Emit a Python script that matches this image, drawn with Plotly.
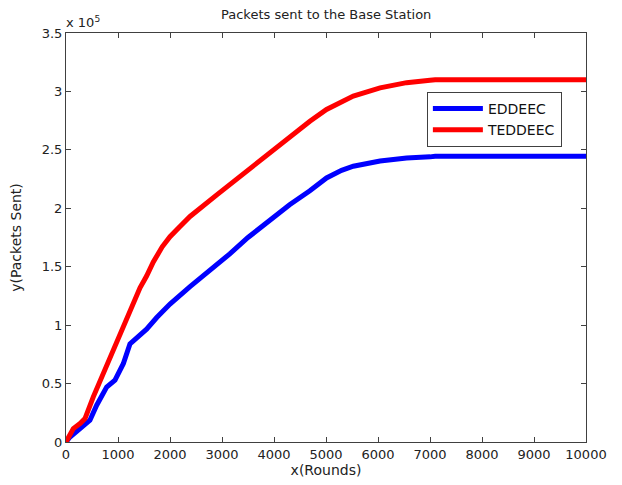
import plotly.graph_objects as go

rounds_eddeec = [0, 77, 270, 460, 590, 782, 942, 1102, 1230, 1423, 1550, 1745, 2000, 2385, 2770,
                 3150, 3500, 3920, 4300, 4690, 5010, 5300, 5525, 6040, 6550, 7000, 7100, 10000]
packets_eddeec = [0, 4300, 11500, 18600, 31500, 47000, 53000, 67000, 84000, 91400, 96500, 106500,
                  118000, 133000, 147000, 161000, 175000, 190000, 203000, 215000, 226000, 232500,
                  236000, 240500, 243000, 244000, 244500, 244500]

rounds_teddeec = [0, 45, 141, 270, 365, 525, 718, 910, 1070, 1200, 1423, 1550, 1679, 1850, 2000,
                  2192, 2385, 2900, 3540, 4180, 4690, 5010, 5525, 6040, 6550, 7000, 7100, 10000]
packets_teddeec = [0, 4000, 11500, 15800, 20000, 38600, 58600, 78600, 95700, 110000, 132000,
                   142000, 154000, 167000, 175700, 184500, 193000, 211500, 234500, 257000, 274500,
                   284600, 296000, 303000, 307500, 309500, 310000, 310000]

x_ticks = [0, 1000, 2000, 3000, 4000, 5000, 6000, 7000, 8000, 9000, 10000]
x_tick_labels = ["0", "1000", "2000", "3000", "4000", "5000", "6000", "7000", "8000", "9000", "10000"]
y_ticks = [0, 0.5, 1, 1.5, 2, 2.5, 3, 3.5]
y_tick_labels = ["0", "0.5", "1", "1.5", "2", "2.5", "3", "3.5"]

FONT = "DejaVu Sans, Liberation Sans, Arial, sans-serif"
TXT = "#222222"

fig = go.Figure()
fig.add_trace(go.Scatter(x=rounds_eddeec, y=[v / 1e5 for v in packets_eddeec], mode="lines",
                         name="EDDEEC", line=dict(color="#0000FF", width=5)))
fig.add_trace(go.Scatter(x=rounds_teddeec, y=[v / 1e5 for v in packets_teddeec], mode="lines",
                         name="TEDDEEC", line=dict(color="#FF0000", width=5)))

axis_common = dict(showline=True, linecolor="#404040", linewidth=1, mirror="ticks",
                   ticks="inside", ticklen=5, tickcolor="#404040", showgrid=False,
                   zeroline=False, tickfont=dict(family=FONT, size=13, color=TXT))

fig.update_layout(
    width=622, height=485,
    margin=dict(l=66, r=36, t=33, b=43),
    paper_bgcolor="white", plot_bgcolor="white",
    font=dict(family=FONT, size=13, color=TXT),
    xaxis=dict(range=[0, 10000], tickvals=x_ticks, ticktext=x_tick_labels,
               title=dict(text="x(Rounds)", standoff=1, font=dict(family=FONT, size=14, color=TXT)),
               **axis_common),
    yaxis=dict(range=[0, 3.5], tickvals=y_ticks, ticktext=y_tick_labels,
               title=dict(text="y(Packets Sent)", standoff=16, font=dict(family=FONT, size=14, color=TXT)),
               **axis_common),
    showlegend=True,
    legend=dict(x=0.694, y=0.856, xanchor="left", yanchor="top", bordercolor="#404040",
                borderwidth=1, bgcolor="white", font=dict(family=FONT, size=14, color="#111111"),
                tracegroupgap=0, itemwidth=50),
    annotations=[
        dict(text="Packets sent to the Base Station", x=0.5, y=1, xref="paper", yref="paper",
             xanchor="center", yanchor="bottom", yshift=9, showarrow=False,
             font=dict(family=FONT, size=13, color=TXT)),
        dict(text="x 10<sup>5</sup>", x=0, y=1, xref="paper", yref="paper",
             xanchor="left", yanchor="bottom", yshift=1, xshift=-2, showarrow=False,
             font=dict(family=FONT, size=13, color=TXT)),
    ],
)

fig.write_html("out.html")
